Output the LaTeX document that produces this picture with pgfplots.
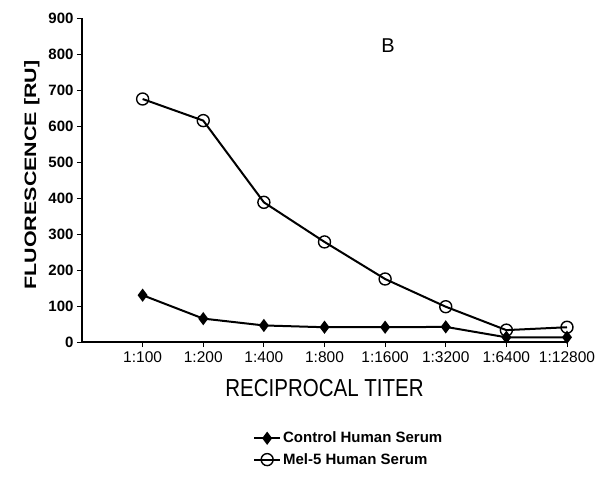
\documentclass[border=0pt]{standalone}
\usepackage{fontspec}
\setmainfont{Liberation Sans}
\usepackage{pgfplots}
\pgfplotsset{compat=1.18}

\begin{document}
\begin{tikzpicture}
  \begin{axis}[
    scale only axis,
    width=485pt, height=324pt,
    xmin=0, xmax=8,
    ymin=0, ymax=900,
    axis x line*=bottom,
    axis y line*=left,
    axis line style={line width=1.3pt},
    tick style={black, line width=1pt},
    major tick length=5pt,
    tick align=outside,
    xtick={1,...,8},
    xticklabels={1:100,1:200,1:400,1:800,1:1600,1:3200,1:6400,1:12800},
    ytick={0,100,...,900},
    /pgf/number format/assume math mode=true,
    xticklabel style={font=\fontsize{15.5}{17}\selectfont, yshift=-1pt},
    yticklabel style={font=\fontsize{15}{17}\selectfont\bfseries},
    xlabel={\scalebox{1}[1.2]{RECIPROCAL TITER}},
    ylabel={\scalebox{1.3}[1]{\bfseries FLUORESCENCE [RU]}},
    xlabel style={font=\fontsize{20.5}{22}\selectfont, yshift=-10pt},
    ylabel style={font=\fontsize{16.5}{18}\selectfont, yshift=2pt, xshift=5pt},
    legend style={draw=none, at={(0.55,-0.265)}, anchor=north,
      font=\fontsize{15}{17}\selectfont\bfseries, row sep=5pt},
    legend cell align=left,
    legend image code/.code={
      \draw[#1] (0pt,0pt) -- (26pt,0pt);
      \draw[#1, only marks] plot coordinates {(13pt,0pt)};
    },
  ]
  \addplot[black, line width=2pt, mark=diamond*, mark size=5pt,
           mark options={solid, fill=black}]
    coordinates {(1,130) (2,65) (3,46) (4,41) (5,41) (6,42) (7,13) (8,13)};
  \addlegendentry{Control Human Serum}
  \addplot[black, line width=2pt, mark=o, mark size=6pt,
           mark options={solid, fill=white, line width=1.4pt}]
    coordinates {(1,675) (2,615) (3,388) (4,278) (5,175) (6,98) (7,33) (8,41)};
  \addlegendentry{Mel-5 Human Serum}
  \node[font=\fontsize{20}{22}\selectfont] at (axis cs:5.05,822) {B};
  \coordinate (sw) at (rel axis cs:0,0);
  \end{axis}
  \pgfresetboundingbox
  \path[use as bounding box] ([shift={(-82pt,-137pt)}]sw) rectangle ([shift={(517pt,342pt)}]sw);
\end{tikzpicture}
\end{document}
